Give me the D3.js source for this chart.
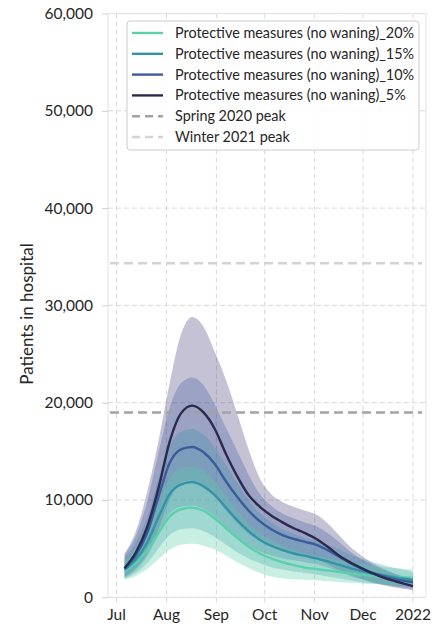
<!DOCTYPE html>
<html>
<head>
<meta charset="utf-8">
<script src="https://cdn.jsdelivr.net/npm/d3@7"></script>
<style>
  html, body { margin: 0; padding: 0; background: #fff; }
  svg { display: block; font-family: Lato, "Open Sans", sans-serif; }
</style>
</head>
<body>
<svg id="chart" width="433" height="628"></svg>
<script>
// Weekly model output dates
const dates = ["2021-07-06","2021-07-13","2021-07-20","2021-07-27","2021-08-03","2021-08-10","2021-08-17",
  "2021-08-24","2021-08-31","2021-09-07","2021-09-14","2021-09-21","2021-09-28","2021-10-05","2021-10-12",
  "2021-10-19","2021-10-26","2021-11-02","2021-11-09","2021-11-16","2021-11-23","2021-11-30","2021-12-07",
  "2021-12-14","2021-12-21","2021-12-28","2022-01-01"];

const seriesNames = ["Protective measures (no waning)_20%","Protective measures (no waning)_15%",
  "Protective measures (no waning)_10%","Protective measures (no waning)_5%"];
const seriesColors = ["#5ccfab","#3593a9","#3d5b9b","#2b2a4e"];

// Median patients in hospital
const median20 = [2750,3500,4800,6600,8300,9050,9200,8900,8100,7100,6100,5200,4500,4000,3600,3300,3050,2900,2750,2600,2450,2300,2200,2100,2050,2020,2000];
const median15 = [2850,3900,5600,8200,10600,11600,11850,11400,10500,9200,7900,6800,5900,5300,4850,4500,4250,4000,3700,3350,3000,2700,2450,2250,2050,1880,1800];
const median10 = [2950,4300,6600,10300,13800,15200,15450,14900,13700,11900,10300,8900,7800,7000,6400,6000,5700,5400,4850,4200,3500,2950,2500,2150,1850,1650,1550];
const median5  = [3000,4600,7200,11200,16000,18900,19700,19000,17300,14700,12400,10500,9300,8400,7700,7100,6600,6000,5200,4300,3600,3000,2450,2000,1650,1330,1150];

// Uncertainty intervals (low / high)
const low20  = [1800,2200,2900,3900,4900,5400,5500,5300,4900,4300,3600,3000,2500,2150,1950,1850,1800,1750,1650,1580,1500,1430,1370,1310,1260,1220,1200];
const high20 = [3800,5000,7000,9700,12200,13200,13400,13000,11900,10400,8900,7600,6600,5900,5300,4850,4500,4250,4000,3800,3600,3400,3250,3100,3000,2900,2850];
const low15  = [1900,2500,3500,5000,6400,7000,7100,6800,6200,5400,4600,4000,3500,3100,2850,2650,2500,2350,2150,1950,1750,1550,1420,1300,1200,1100,1050];
const high15 = [4000,5600,8200,12200,15600,17000,17300,16700,15400,13600,11700,10000,8600,7700,7000,6500,6100,5800,5400,4900,4400,3950,3600,3300,3000,2750,2600];
const low10  = [2000,2800,4200,6400,8600,9300,9400,9100,8300,7200,6200,5300,4700,4300,4000,3800,3600,3400,3050,2650,2200,1850,1550,1320,1120,950,850];
const high10 = [4300,6300,9800,14800,19500,22000,22600,21800,19800,17400,15000,12600,10600,9400,8600,8100,7700,7300,6600,5700,4700,3900,3300,2800,2400,2100,1900];
const low5   = [2100,3000,4500,7000,10000,11800,12000,11500,10400,8900,7600,6500,5800,5300,4900,4600,4300,3900,3400,2800,2300,1900,1500,1250,1000,820,700];
const high5  = [4500,6800,10800,16000,22000,27000,28800,27800,25200,22300,18800,15200,12200,10600,9800,9300,8900,8500,7600,6400,5200,4300,3500,2900,2400,2000,1800];

// Reference peaks
const peakNames  = ["Spring 2020 peak","Winter 2021 peak"];
const peakValues = [19000, 34336];
const peakColors = ["#a3a3a3","#d3d3d3"];

// Axis ticks
const yTicks = [0,10000,20000,30000,40000,50000,60000];
const xTickDates  = ["2021-07-01","2021-08-01","2021-09-01","2021-10-01","2021-11-01","2021-12-01","2022-01-01"];
const xTickLabels = ["Jul","Aug","Sep","Oct","Nov","Dec","2022"];

const parse = d3.timeParse("%Y-%m-%d");
const svg = d3.select("#chart");

const frame = {left: 108, right: 426};
const x = d3.scaleTime().domain([parse("2021-07-01"), parse("2022-01-01")]).range([116.5, 413]);
const y = d3.scaleLinear().domain([0, 60000]).range([597.3, 13.5]);

const textColor = "#262626";
const gridColor = "#d9d9d9";

// Grid
const grid = svg.append("g");
grid.selectAll("line.hg").data(yTicks).join("line")
  .attr("x1", frame.left).attr("x2", frame.right)
  .attr("y1", d => y(d)).attr("y2", d => y(d))
  .attr("stroke", gridColor).attr("stroke-width", 1).attr("stroke-dasharray", "5,3");
grid.selectAll("line.vg").data(xTickDates).join("line")
  .attr("x1", d => x(parse(d))).attr("x2", d => x(parse(d)))
  .attr("y1", y(60000)).attr("y2", y(0) + 6)
  .attr("stroke", gridColor).attr("stroke-width", 1).attr("stroke-dasharray", "5,3");

// Frame
svg.append("rect")
  .attr("x", frame.left).attr("y", y(60000))
  .attr("width", frame.right - frame.left).attr("height", y(0) - y(60000))
  .attr("fill", "none").attr("stroke", "#e2e2e2").attr("stroke-width", 1);

// Y axis
const yAxis = svg.append("g").attr("transform", `translate(${frame.left},0)`)
  .call(d3.axisLeft(y).tickValues(yTicks).tickFormat(d3.format(",")).tickSize(6).tickPadding(9));
yAxis.select(".domain").remove();
yAxis.selectAll(".tick line").attr("stroke", "#cfcfcf");
yAxis.selectAll(".tick text").attr("fill", textColor).attr("font-size", 15.5)
  .attr("font-family", "Lato, sans-serif");

// X axis labels
svg.append("g").selectAll("text").data(xTickDates).join("text")
  .attr("x", d => x(parse(d))).attr("y", 620)
  .attr("text-anchor", "middle").attr("fill", textColor).attr("font-size", 15.5)
  .text((d, i) => xTickLabels[i]);

// Y label
svg.append("text")
  .attr("transform", "translate(33,314) rotate(-90)")
  .attr("text-anchor", "middle").attr("fill", textColor).attr("font-size", 17)
  .text("Patients in hospital");

// Bands and lines
const medians = [median20, median15, median10, median5];
const lows = [low20, low15, low10, low5];
const highs = [high20, high15, high10, high5];

const area = d3.area().curve(d3.curveMonotoneX)
  .x(d => x(d.date)).y0(d => y(d.lo)).y1(d => y(d.hi));
const line = d3.line().curve(d3.curveMonotoneX)
  .x(d => x(d.date)).y(d => y(d.v));

const bandOpacity = [0.33, 0.3, 0.3, 0.3];
[3, 2, 1, 0].forEach(k => {
  const rows = dates.map((s, i) => ({date: parse(s), lo: lows[k][i], hi: highs[k][i]}));
  svg.append("path").datum(rows).attr("d", area)
    .attr("fill", k === 3 ? "#3a3570" : seriesColors[k]).attr("fill-opacity", bandOpacity[k]).attr("stroke", "none");
});

// Peak reference lines
peakValues.forEach((v, i) => {
  svg.append("line")
    .attr("x1", frame.left + 2).attr("x2", frame.right - 4)
    .attr("y1", y(v)).attr("y2", y(v))
    .attr("stroke", peakColors[i]).attr("stroke-width", 2.6).attr("stroke-dasharray", "9,5");
});

[0, 1, 2, 3].forEach(k => {
  const rows = dates.map((s, i) => ({date: parse(s), v: medians[k][i]}));
  svg.append("path").datum(rows).attr("d", line)
    .attr("fill", "none").attr("stroke", seriesColors[k]).attr("stroke-width", 2.4);
});

// Legend
const legend = svg.append("g");
legend.append("rect")
  .attr("x", 127).attr("y", 21).attr("width", 292).attr("height", 129).attr("rx", 3)
  .attr("fill", "#fff").attr("fill-opacity", 0.9).attr("stroke", "#cccccc").attr("stroke-width", 1);
const legendItems = seriesNames.map((n, i) => ({name: n, color: seriesColors[i], dash: null, width: 2.4}))
  .concat(peakNames.map((n, i) => ({name: n, color: peakColors[i], dash: "8,5", width: 2.6})));
legendItems.forEach((it, i) => {
  const cy = 33 + i * 20.8;
  legend.append("line").attr("x1", 132).attr("x2", 163).attr("y1", cy).attr("y2", cy)
    .attr("stroke", it.color).attr("stroke-width", it.width)
    .attr("stroke-dasharray", it.dash);
  legend.append("text").attr("x", 175).attr("y", cy).attr("dy", "0.35em")
    .attr("fill", textColor).attr("font-size", 14.4).text(it.name);
});
</script>
</body>
</html>
